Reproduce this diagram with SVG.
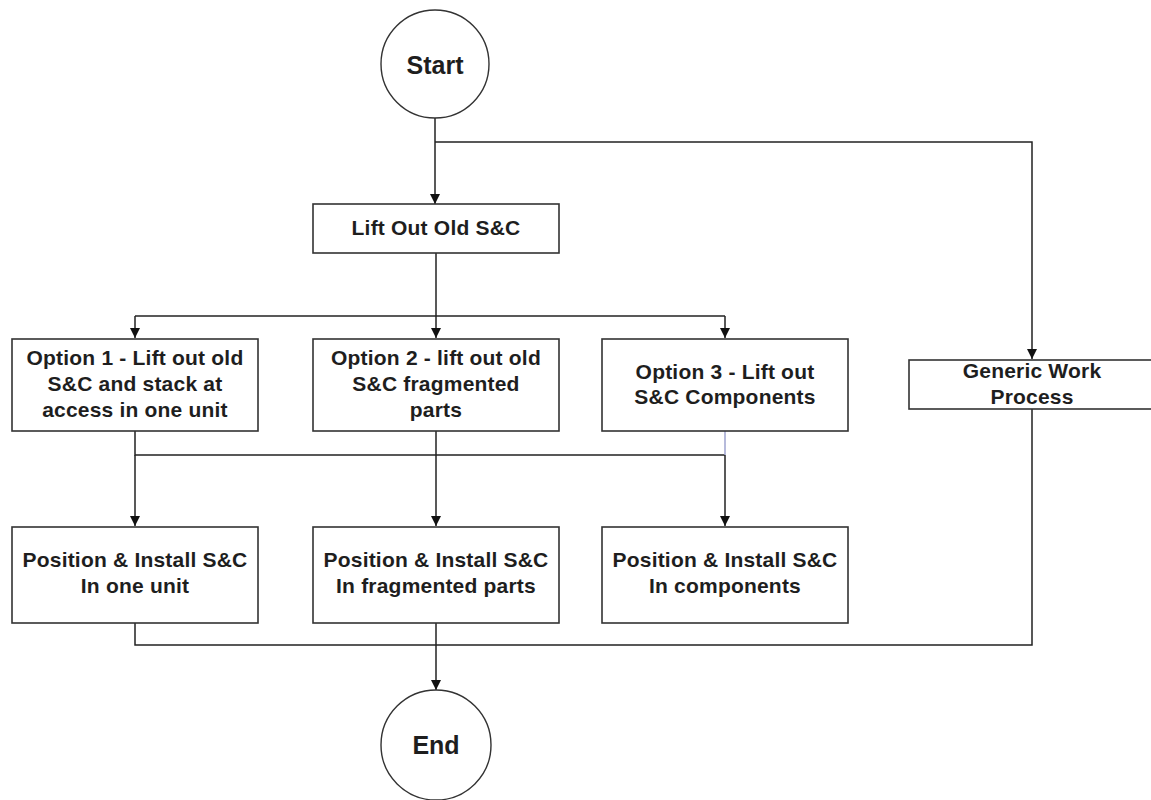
<svg xmlns="http://www.w3.org/2000/svg" width="1151" height="800" viewBox="0 0 1151 800">
  <style>
    .box { fill: #ffffff; stroke: #333333; stroke-width: 1.6; }
    .term { fill: #ffffff; stroke: #333333; stroke-width: 1.4; }
    .lbl { font-family: "Liberation Sans", Arial, sans-serif; font-weight: bold; font-size: 21px; letter-spacing: 0.2px; fill: #1e1e1e; text-anchor: middle; }
    .big { font-size: 25px; letter-spacing: 0; }
    .wire { fill: none; stroke: #222222; stroke-width: 1.5; }
    .wire-blue { fill: none; stroke: #9ea3cf; stroke-width: 1.5; }
  </style>
  <defs>
    <marker id="arrow" markerUnits="userSpaceOnUse" markerWidth="10" markerHeight="12" refX="10" refY="5" orient="auto">
      <path d="M0,0 L10,5 L0,10 z" fill="#111111"/>
    </marker>
  </defs>
  <rect width="1151" height="800" fill="#ffffff"/>

  <g id="connectors">
    <!-- Start to Lift Out and branch to Generic Work Process -->
    <path class="wire" d="M435,118 L435,204" marker-end="url(#arrow)"/>
    <path class="wire" d="M435,142 L1032,142 L1032,359" marker-end="url(#arrow)"/>
    <!-- Lift Out to the three options -->
    <path class="wire" d="M436,253 L436,338" marker-end="url(#arrow)"/>
    <path class="wire" d="M135,316 L725,316"/>
    <path class="wire" d="M135,316 L135,338" marker-end="url(#arrow)"/>
    <path class="wire" d="M725,316 L725,338" marker-end="url(#arrow)"/>
    <!-- Options to Position & Install -->
    <path class="wire" d="M135,431 L135,455 L725,455"/>
    <path class="wire" d="M135,455 L135,526" marker-end="url(#arrow)"/>
    <path class="wire" d="M436,431 L436,526" marker-end="url(#arrow)"/>
    <path class="wire-blue" d="M725,431 L725,455"/>
    <path class="wire" d="M725,455 L725,526" marker-end="url(#arrow)"/>
    <!-- Merge to End -->
    <path class="wire" d="M135,623 L135,645 L1032,645 L1032,409"/>
    <path class="wire" d="M436,623 L436,690" marker-end="url(#arrow)"/>
  </g>

  <g id="start">
    <circle class="term" cx="435" cy="64" r="54"/>
    <text class="lbl big" x="435" y="74">Start</text>
  </g>

  <g id="lift-out">
    <rect class="box" x="313" y="204" width="246" height="49"/>
    <text class="lbl" x="436" y="235">Lift Out Old S&amp;C</text>
  </g>

  <g id="option-1">
    <rect class="box" x="12" y="339" width="246" height="92"/>
    <text class="lbl" x="135" y="365">Option 1 - Lift out old</text>
    <text class="lbl" x="135" y="391">S&amp;C and stack at</text>
    <text class="lbl" x="135" y="417">access in one unit</text>
  </g>

  <g id="option-2">
    <rect class="box" x="313" y="339" width="246" height="92"/>
    <text class="lbl" x="436" y="365">Option 2 - lift out old</text>
    <text class="lbl" x="436" y="391">S&amp;C fragmented</text>
    <text class="lbl" x="436" y="417">parts</text>
  </g>

  <g id="option-3">
    <rect class="box" x="602" y="339" width="246" height="92"/>
    <text class="lbl" x="725" y="379">Option 3 - Lift out</text>
    <text class="lbl" x="725" y="404">S&amp;C Components</text>
  </g>

  <g id="generic-work">
    <rect class="box" x="909" y="360" width="246" height="49"/>
    <text class="lbl" x="1032" y="378">Generic Work</text>
    <text class="lbl" x="1032" y="404">Process</text>
  </g>

  <g id="install-1">
    <rect class="box" x="12" y="527" width="246" height="96"/>
    <text class="lbl" x="135" y="567">Position &amp; Install S&amp;C</text>
    <text class="lbl" x="135" y="593">In one unit</text>
  </g>

  <g id="install-2">
    <rect class="box" x="313" y="527" width="246" height="96"/>
    <text class="lbl" x="436" y="567">Position &amp; Install S&amp;C</text>
    <text class="lbl" x="436" y="593">In fragmented parts</text>
  </g>

  <g id="install-3">
    <rect class="box" x="602" y="527" width="246" height="96"/>
    <text class="lbl" x="725" y="567">Position &amp; Install S&amp;C</text>
    <text class="lbl" x="725" y="593">In components</text>
  </g>

  <g id="end">
    <circle class="term" cx="436" cy="745" r="55"/>
    <text class="lbl big" x="436" y="754">End</text>
  </g>
</svg>
